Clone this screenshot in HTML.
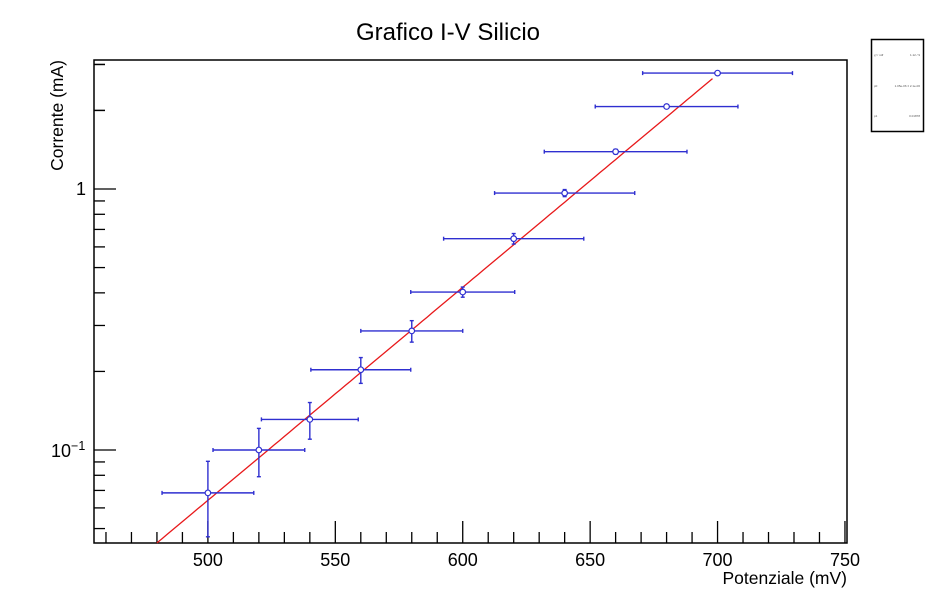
<!DOCTYPE html>
<html><head><meta charset="utf-8"><style>
body{margin:0;background:#fff;}
svg{display:block;font-family:"Liberation Sans",sans-serif;}
</style></head><body>
<svg id="c" width="942" height="605">
<text x="448" y="40" font-size="24" text-anchor="middle">Grafico I-V Silicio</text>
<text x="847" y="584" font-size="17.5" text-anchor="end">Potenziale (mV)</text>
<text transform="translate(63,60) rotate(-90)" font-size="17.5" text-anchor="end">Corrente (mA)</text>
<g id="axes"></g>
<g id="marks"></g>
<g>
<rect x="871.5" y="39.5" width="52" height="92" fill="#fff" stroke="#000" stroke-width="1.5"/>
<text x="874" y="56" font-size="3" fill="#555">χ² / ndf</text><text x="920" y="56" font-size="3" text-anchor="end" fill="#555">1.12 / 9</text>
<text x="874" y="87" font-size="3" fill="#555">p0</text><text x="920" y="87" font-size="3" text-anchor="end" fill="#555">1.05e-06 ± 2.1e-06</text>
<text x="874" y="117" font-size="3" fill="#555">p1</text><text x="920" y="117" font-size="3" text-anchor="end" fill="#555">0.01878</text>
</g>
</svg>
<script>
const voltages=[500,520,540,560,580,600,620,640,660,680,700];
const currents=[0.0685,0.1,0.131,0.203,0.286,0.403,0.645,0.965,1.39,2.07,2.78];
const voltErr=[18,18,19,19.6,20,20.4,27.5,27.5,28,28,29.4];
const currErr=[0.022,0.021,0.021,0.023,0.027,0.018,0.03,0.03,0.03,0.03,0.03];
const fitRange=[480,698];
const fitA=-1.356, fitB=0.00816, fitV0=480;
const xTicks=[500,550,600,650,700,750];
const yTickLabels=[["1",1],["10",0.1]];

const L=94,R=847,T=60,B=543;
const xMin=455.3,xMax=750.8;
const X=v=>L+(v-xMin)/(xMax-xMin)*(R-L);
const Y=i=>189-Math.log10(i)*261;
const NS="http://www.w3.org/2000/svg";
function mk(tag,attrs,parent){const e=document.createElementNS(NS,tag);for(const k in attrs)e.setAttribute(k,attrs[k]);parent.appendChild(e);return e;}
const ax=document.getElementById('axes'),mg=document.getElementById('marks');
let f=mk('rect',{x:L,y:T,width:R-L,height:B-T,fill:'none',stroke:'#000','stroke-width':1.5},ax);


for(let v=460;v<=750;v+=10){
  const maj=v%50===0;
  let t=mk('line',{x1:X(v),x2:X(v),y1:B,y2:B-(maj?22:11),stroke:'#000','stroke-width':1.3},ax);
  
  
}
xTicks.forEach(v=>{
  let t=mk('text',{x:X(v),y:B+23,'font-size':18,'text-anchor':'middle'},ax);t.textContent=v;
  
  
});
for(let d=-2;d<=0;d++){for(let m=1;m<=9;m++){
  const val=m*Math.pow(10,d);const y=Y(val);if(y<T||y>B)continue;
  let t=mk('line',{x1:L,x2:L+(m===1?22:11),y1:y,y2:y,stroke:'#000','stroke-width':1.3},ax);
  
  
}}
[2,3].forEach(m=>{let t=mk('line',{x1:L,x2:L+11,y1:Y(m),y2:Y(m),stroke:'#000','stroke-width':1.3},ax);
  
  });
let l1=mk('text',{x:86,y:Y(1)+6,'font-size':18,'text-anchor':'end'},ax);l1.textContent=yTickLabels[0][0];


let l2=mk('text',{x:51,y:Y(0.1)+7,'font-size':18},ax);l2.textContent=yTickLabels[1][0];
let sp=mk('tspan',{dy:-7,'font-size':12.5},l2);sp.textContent='−1';


let pts=[];for(let v=fitRange[0];v<=fitRange[1];v+=2){const i=Math.pow(10,fitA+fitB*(v-fitV0));pts.push(X(v).toFixed(1)+','+Y(i).toFixed(1));}
let fl=mk('polyline',{points:pts.join(' '),fill:'none',stroke:'#e8191b','stroke-width':1.3},mg);


const col='#2f2fd0';
voltages.forEach((v,k)=>{
  const c=currents[k],x=X(v),y=Y(c),x1=X(v-voltErr[k]),x2=X(v+voltErr[k]),y1=Y(c+currErr[k]),y2=Y(Math.max(c-currErr[k],0.001));
  const g=mk('g',{},mg);
  
  
  mk('line',{x1:x1,x2:x2,y1:y,y2:y,stroke:col,'stroke-width':1.4},g);
  mk('line',{x1:x1,x2:x1,y1:y-2,y2:y+2,stroke:col,'stroke-width':1.4},g);
  mk('line',{x1:x2,x2:x2,y1:y-2,y2:y+2,stroke:col,'stroke-width':1.4},g);
  mk('line',{x1:x,x2:x,y1:y1,y2:Math.min(y2,B),stroke:col,'stroke-width':1.4},g);
  mk('line',{x1:x-2,x2:x+2,y1:y1,y2:y1,stroke:col,'stroke-width':1.4},g);
  if(y2<B)mk('line',{x1:x-2,x2:x+2,y1:y2,y2:y2,stroke:col,'stroke-width':1.4},g);
  mk('circle',{cx:x,cy:y,r:2.8,fill:'#fff',stroke:col,'stroke-width':1.2},g);
});
</script>
</body></html>
